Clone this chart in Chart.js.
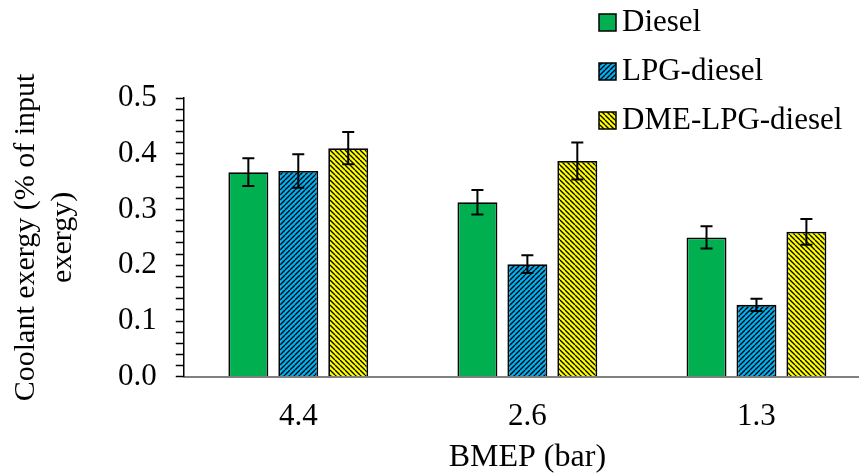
<!DOCTYPE html>
<html>
<head>
<meta charset="utf-8">
<script src="https://cdn.jsdelivr.net/npm/chart.js@4.4.1/dist/chart.umd.min.js"></script>
<style>
  html, body { margin: 0; padding: 0; background: #fff; overflow: hidden; }
  #wrap { width: 880px; height: 474px; }
</style>
</head>
<body>
<div id="wrap"><canvas id="myChart"></canvas></div>
<script>
'use strict';

const bmep = ['4.4', '2.6', '1.3'];
const seriesNames = ['Diesel', 'LPG-diesel', 'DME-LPG-diesel'];
const diesel = [0.367, 0.313, 0.250];
const lpgDiesel = [0.369, 0.202, 0.129];
const dmeLpgDiesel = [0.410, 0.387, 0.260];
const dieselErr = [0.025, 0.022, 0.020];
const lpgDieselErr = [0.030, 0.016, 0.011];
const dmeLpgDieselErr = [0.029, 0.033, 0.023];

const FONT = "'Liberation Serif', 'Times New Roman', serif";

// diagonal hatch fill, dir 1 = "///", dir -1 = "\\\"
function hatch(bg, dir) {
  const s = 5;
  const c = document.createElement('canvas');
  c.width = s; c.height = s;
  const g = c.getContext('2d');
  g.fillStyle = bg;
  g.fillRect(0, 0, s, s);
  g.strokeStyle = '#000';
  g.lineWidth = 1.3;
  g.beginPath();
  for (let k = -1; k <= 1; k++) {
    if (dir > 0) {
      g.moveTo(k * s, s); g.lineTo(k * s + s, 0);
    } else {
      g.moveTo(k * s, 0); g.lineTo(k * s + s, s);
    }
  }
  g.stroke();
  return g.createPattern(c, 'repeat');
}

const fills = ['#00B050', hatch('#00B0F0', 1), hatch('#FFFF00', -1)];
const values = [diesel, lpgDiesel, dmeLpgDiesel];
const errors = [dieselErr, lpgDieselErr, dmeLpgDieselErr];

const errorBars = {
  id: 'errorBars',
  afterDatasetsDraw(chart) {
    const ctx = chart.ctx;
    const y = chart.scales.y;
    ctx.save();
    ctx.strokeStyle = '#000';
    ctx.lineWidth = 2;
    chart.data.datasets.forEach((ds, i) => {
      chart.getDatasetMeta(i).data.forEach((bar, j) => {
        const v = ds.data[j], e = ds.errors[j];
        const top = y.getPixelForValue(v + e);
        const bot = y.getPixelForValue(v - e);
        ctx.beginPath();
        ctx.moveTo(bar.x, top); ctx.lineTo(bar.x, bot);
        ctx.moveTo(bar.x - 6, top); ctx.lineTo(bar.x + 6, top);
        ctx.moveTo(bar.x - 6, bot); ctx.lineTo(bar.x + 6, bot);
        ctx.stroke();
      });
    });
    ctx.restore();
  }
};

const sideLegend = {
  id: 'sideLegend',
  afterDraw(chart) {
    const ctx = chart.ctx;
    ctx.save();
    ctx.font = '31px ' + FONT;
    ctx.textBaseline = 'middle';
    chart.data.datasets.forEach((ds, i) => {
      const cy = 22 + i * 49;
      ctx.fillStyle = ds.backgroundColor;
      ctx.fillRect(599, cy - 8, 17, 17);
      ctx.strokeStyle = '#000';
      ctx.lineWidth = 1.5;
      ctx.strokeRect(599, cy - 8, 17, 17);
      ctx.fillStyle = '#000';
      ctx.fillText(ds.label, 622, cy + 1);
    });
    ctx.restore();
  }
};

const ctx = document.getElementById('myChart').getContext('2d');
new Chart(ctx, {
  type: 'bar',
  data: {
    labels: bmep,
    datasets: seriesNames.map((name, i) => ({
      label: name,
      data: values[i],
      errors: errors[i],
      backgroundColor: fills[i],
      borderColor: '#000',
      borderWidth: 1.8,
      categoryPercentage: 0.654,
      barPercentage: 0.8
    }))
  },
  options: {
    responsive: true,
    maintainAspectRatio: false,
    animation: false,
    layout: { padding: { top: 98, right: 9, left: 7, bottom: 0 } },
    plugins: {
      legend: { display: false },
      tooltip: { enabled: false }
    },
    scales: {
      x: {
        grid: { display: false, drawTicks: false },
        border: { display: true, color: '#808080', width: 2 },
        ticks: { color: '#000', font: { family: FONT, size: 31 }, padding: 21 },
        title: {
          display: true, text: 'BMEP (bar)', color: '#000',
          font: { family: FONT, size: 32, lineHeight: 1 }, padding: { top: -14, bottom: 0 }
        }
      },
      y: {
        min: 0, max: 0.5,
        grid: { drawOnChartArea: false, drawTicks: true, tickLength: 8, tickColor: '#000', tickWidth: 1.5 },
        border: { color: '#000', width: 1.5 },
        ticks: {
          stepSize: 0.02,
          autoSkip: false,
          color: '#000',
          padding: 19,
          font: { family: FONT, size: 31 },
          callback: v => (Math.round(v * 100) % 10 === 0 ? v.toFixed(1) : '')
        },
        title: {
          display: true,
          text: ['Coolant exergy (% of input', 'exergy)'],
          color: '#000',
          font: { family: FONT, size: 30, lineHeight: 1.25 },
          padding: { top: 0, bottom: 17 }
        }
      }
    }
  },
  plugins: [errorBars, sideLegend]
});
</script>
</body>
</html>
